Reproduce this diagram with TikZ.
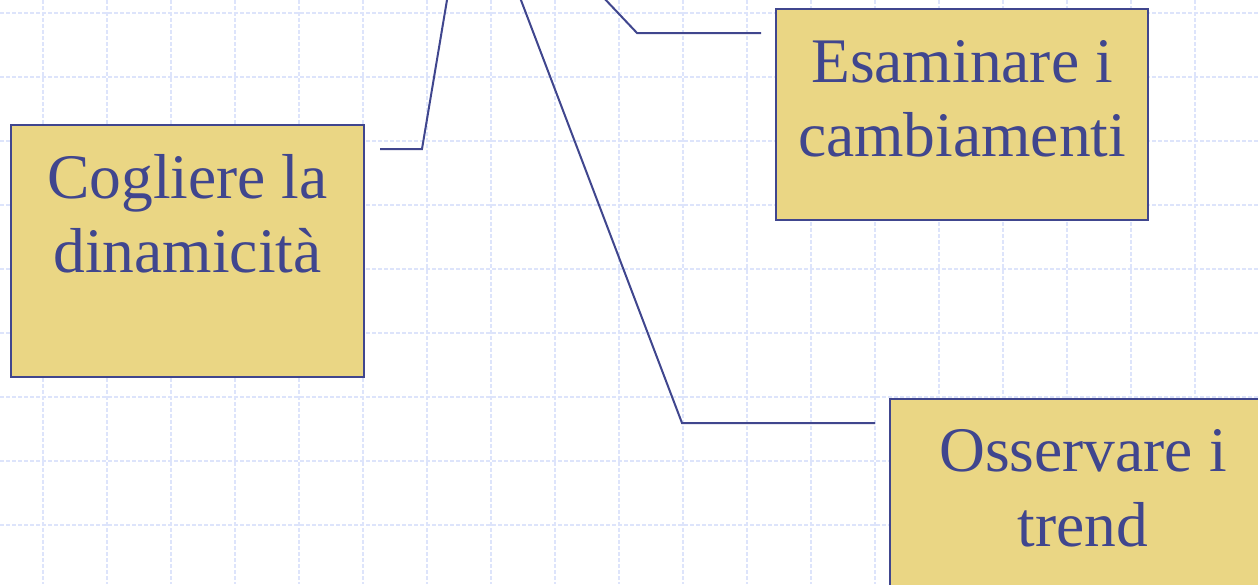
\documentclass[tikz,border=0pt]{standalone}
\usepackage{fontspec}
\setmainfont{Liberation Serif}
\definecolor{ink}{RGB}{64,70,142}
\definecolor{boxfill}{RGB}{234,214,132}
\definecolor{gridc}{RGB}{221,228,251}
\begin{document}
\begin{tikzpicture}[x=1pt,y=-1pt,
  gridline/.style={draw=gridc,line width=1.3pt,dash pattern=on 4pt off 2pt},
  card/.style={draw=ink,fill=boxfill,line width=2pt},
  txt/.style={text=ink,inner sep=0pt,anchor=base,font=\fontsize{63.5}{75}\selectfont},
  wire/.style={draw=ink,line width=2pt,line join=miter}]
\useasboundingbox (0,0) rectangle (1258,584);
\clip (0,0) rectangle (1258,584);
\fill[white] (0,0) rectangle (1258,584);
% grid
\foreach \i in {0,...,18} \draw[gridline] (43+64*\i,0) -- (43+64*\i,584);
\foreach \j in {0,...,8} \draw[gridline] (0,13+64*\j) -- (1258,13+64*\j);
% boxes
\path[card] (11,125) rectangle (364,377);
\node[coordinate] (b1) at (187.5,251) {};
\path[card] (776,9) rectangle (1148,220);
\node[coordinate] (b2) at (962,114.5) {};
\path[card] (890,399) rectangle (1278,640);
\node[coordinate] (b3) at (1084,520) {};
% texts
\node[txt] (t1a) at (187.5,198) {Cogliere la};
\node[txt] (t1b) at (187.5,272) {dinamicità};
\node[txt] (t2a) at (962,82) {Esaminare i};
\node[txt] (t2b) at (962,156) {cambiamenti};
\node[txt] (t3a) at (1083,471) {Osservare i};
\node[txt] (t3b) at (1083,546) {trend};
% connector points
\coordinate (h1) at (453.7,-40);
\coordinate (k1) at (422,149);
\coordinate (e1) at (380,149);
\coordinate (h2) at (505.7,-40);
\coordinate (k2) at (682,423);
\coordinate (e2) at (875,423);
\coordinate (h3) at (568,-40);
\coordinate (k3) at (637,33);
\coordinate (e3) at (761,33);
\draw[wire] (h1) -- (k1) -- (e1);
\draw[wire] (h2) -- (k2) -- (e2);
\draw[wire] (h3) -- (k3) -- (e3);
\end{tikzpicture}
\end{document}
